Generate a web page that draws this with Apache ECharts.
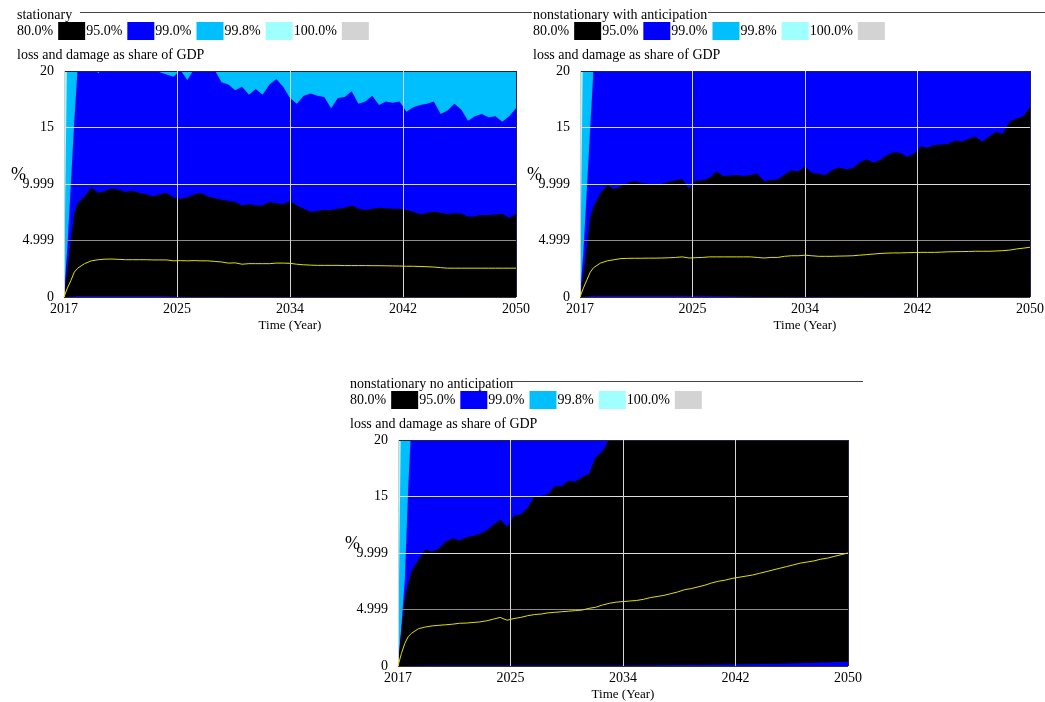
<!DOCTYPE html>
<html>
<head>
<meta charset="utf-8">
<title>loss and damage as share of GDP</title>
<script src="https://cdn.jsdelivr.net/npm/echarts@6/dist/echarts.min.js"></script>
<style>
  html, body { margin: 0; padding: 0; background: #fff; }
  #chart { width: 1045px; height: 702px; }
</style>
</head>
<body>
<div id="chart"></div>
<script>
// time axis (years), finer over the first year where the bands rise fast
const years = [2017, 2017.25, 2017.5, 2017.75, 2018, 2018.5, 2019, 2019.5, 2020, 2020.5,
  2021, 2021.5, 2022, 2022.5, 2023, 2023.5, 2024, 2024.5, 2025, 2025.5, 2026, 2026.5,
  2027, 2027.5, 2028, 2028.5, 2029, 2029.5, 2030, 2030.5, 2031, 2031.5, 2032, 2032.5,
  2033, 2033.5, 2034, 2034.5, 2035, 2035.5, 2036, 2036.5, 2037, 2037.5, 2038, 2038.5,
  2039, 2039.5, 2040, 2040.5, 2041, 2041.5, 2042, 2042.5, 2043, 2043.5, 2044, 2044.5,
  2045, 2045.5, 2046, 2046.5, 2047, 2047.5, 2048, 2048.5, 2049, 2049.5, 2050];
const startYear = 2017;
const yTickLabels = ['0', '4.999', '9.999', '15', '20'];

const panelTitles = ['stationary', 'nonstationary with anticipation', 'nonstationary no anticipation'];
const subtitle = 'loss and damage as share of GDP';
const bandNames = ['80.0%', '95.0%', '99.0%', '99.8%', '100.0%'];
const bandColors = ['#000000', '#0000ff', '#00bfff', '#a0ffff', '#d3d3d3'];

// --- stationary ---
const statUpper80 = [0, 2.4, 5.1, 7.4, 8.3, 8.9, 9.7, 9.2, 9.4, 9.6, 9.5, 9.3, 9.4, 9.2, 9.1, 8.9,
  9.1, 9.2, 8.8, 8.7, 8.8, 9.1, 9.2, 8.9, 8.75, 8.6, 8.5, 8.4, 8.1, 8.2, 8.1, 8.1, 8.4, 8.3,
  8.2, 8.5, 8.1, 7.8, 7.55, 7.6, 7.7, 7.7, 7.8, 7.9, 8.1, 7.8, 7.7, 7.8, 7.9, 7.85, 7.8, 7.8,
  7.7, 7.55, 7.3, 7.45, 7.55, 7.45, 7.35, 7.4, 7.4, 7.1, 7.15, 7.25, 7.25, 7.3, 7.35, 7.0, 7.35];
const statUpper95 = [0, 4.5, 10, 15.5, 20.4, 21, 20.6, 19.8, 20.5, 21, 20.5, 20.6, 20.4, 20.3,
  20.5, 20.2, 19.9, 19.7, 19.5, 20.1, 19.2, 20.2, 20.3, 20.2, 20.1, 19.0, 18.8, 18.3, 18.6,
  17.9, 18.4, 17.9, 18.8, 19.3, 18.6, 17.6, 17.1, 17.8, 18.0, 17.8, 17.7, 16.7, 17.6, 17.7,
  18.2, 17.1, 17.3, 17.8, 17.0, 17.3, 17.2, 17.3, 16.4, 16.8, 17.0, 17.1, 17.3, 16.2, 16.5,
  17.1, 16.6, 15.6, 16.0, 16.2, 15.9, 16.0, 15.5, 16.0, 16.7];
const statMean = [0, 0.8, 1.45, 2.2, 2.55, 2.95, 3.2, 3.3, 3.35, 3.36, 3.33, 3.3, 3.3, 3.3, 3.3,
  3.28, 3.28, 3.28, 3.2, 3.22, 3.2, 3.22, 3.2, 3.2, 3.15, 3.1, 3.0, 3.02, 2.9, 2.95, 2.95, 2.95,
  2.95, 3.0, 3.0, 2.98, 2.9, 2.85, 2.82, 2.8, 2.8, 2.8, 2.8, 2.78, 2.78, 2.78, 2.78, 2.77, 2.77,
  2.76, 2.75, 2.74, 2.72, 2.72, 2.7, 2.68, 2.65, 2.6, 2.55, 2.55, 2.55, 2.55, 2.55, 2.55, 2.55,
  2.55, 2.55, 2.55, 2.55];

// --- nonstationary with anticipation ---
const antUpper80 = [0, 2.0, 4.5, 7.1, 8.0, 9.2, 9.9, 9.55, 9.8, 10.1, 10.25, 10.1, 10.0, 10.0,
  10.0, 10.2, 10.3, 10.45, 9.6, 10.3, 10.3, 10.55, 11.1, 10.7, 10.75, 10.8, 10.7, 10.8, 10.9,
  10.25, 10.35, 10.4, 10.85, 11.2, 11.1, 11.55, 11.0, 10.9, 10.8, 11.25, 11.45, 11.3, 11.4,
  11.9, 12.2, 11.9, 12.1, 12.55, 12.8, 12.75, 12.4, 12.7, 13.35, 13.2, 13.45, 13.5, 13.55,
  13.85, 13.75, 14.0, 14.2, 13.75, 14.2, 14.6, 14.45, 15.5, 15.8, 16.0, 16.8];
const antMean = [0, 0.8, 1.5, 2.2, 2.6, 3.0, 3.2, 3.3, 3.4, 3.42, 3.43, 3.43, 3.44, 3.44, 3.45,
  3.47, 3.5, 3.55, 3.45, 3.48, 3.5, 3.55, 3.55, 3.55, 3.55, 3.55, 3.55, 3.55, 3.5, 3.45, 3.5,
  3.5, 3.6, 3.65, 3.65, 3.7, 3.65, 3.6, 3.6, 3.6, 3.62, 3.63, 3.65, 3.7, 3.75, 3.8, 3.85, 3.88,
  3.9, 3.9, 3.92, 3.94, 3.95, 3.95, 3.95, 3.97, 4.0, 4.01, 4.02, 4.03, 4.05, 4.05, 4.05, 4.07,
  4.1, 4.15, 4.25, 4.32, 4.4];

// --- nonstationary no anticipation ---
const noAntUpper80 = [0, 3.2, 6.0, 7.3, 8.4, 9.4, 10.3, 10.1, 10.4, 11.0, 11.3, 11.1, 11.4, 11.5,
  11.7, 12.0, 12.5, 12.95, 12.3, 13.3, 13.4, 14.0, 15.0, 15.05, 15.2, 15.9, 15.9, 16.4, 16.3,
  16.7, 17.0, 18.5, 19.0, 20.1, 20.8, 21.2, 21.0, 21.5, 21.9, 22.1, 22.4, 22.6, 22.9, 23.1,
  23.4, 23.6, 23.9, 24.2, 24.5, 24.7, 25.0, 25.3, 25.6, 25.8, 26.1, 26.4, 26.7, 26.9, 27.2,
  27.5, 27.8, 28.0, 28.3, 28.6, 28.9, 29.1, 29.4, 29.7, 30.0];
const noAntMean = [0, 1.1, 2.0, 2.6, 2.9, 3.3, 3.45, 3.55, 3.6, 3.65, 3.7, 3.78, 3.8, 3.85, 3.9,
  4.0, 4.15, 4.3, 4.05, 4.2, 4.3, 4.45, 4.55, 4.6, 4.7, 4.75, 4.8, 4.85, 4.9, 4.95, 5.1, 5.2,
  5.4, 5.55, 5.65, 5.7, 5.75, 5.8, 5.9, 6.05, 6.15, 6.25, 6.4, 6.55, 6.75, 6.85, 7.0, 7.15,
  7.35, 7.5, 7.6, 7.75, 7.85, 7.95, 8.05, 8.2, 8.35, 8.5, 8.65, 8.8, 8.95, 9.1, 9.2, 9.3,
  9.45, 9.55, 9.7, 9.85, 10.0];

// outer bounds, mostly above the 20 % ceiling (only the first year shows)
const upper95Years = [2017, 2017.25, 2017.5, 2017.75, 2018, 2019, 2030, 2050];
const antUpper95 = [0, 4, 9.5, 15, 20.4, 23, 26, 32];
const noAntUpper95 = [0, 3.5, 7.7, 15.8, 22, 24, 28, 36];
const outerYears = [2017, 2017.25, 2017.5, 2018, 2030, 2050];
const statUpper99 = [0, 24, 30, 29, 27, 25];
const antUpper99 = [0, 25, 32, 34, 38, 45];
const noAntUpper99 = [0, 25, 32, 35, 40, 48];
const statUpper998 = [0, 50, 60, 60, 55, 50];
const antUpper998 = [0, 50, 60, 65, 70, 80];
const noAntUpper998 = [0, 50, 60, 66, 72, 85];
const upper100 = [0, 200, 200, 200, 200, 200];

// lower 80 % bound, a thin sliver along zero
const statLowerYears = [2017, 2018, 2024, 2026, 2050];
const statLower80 = [0, 0.08, 0.08, 0.02, 0.02];
const antLowerYears = [2017, 2018, 2026, 2030, 2050];
const antLower80 = [0, 0.1, 0.1, 0.03, 0.03];
const noAntLowerYears = [2017, 2020, 2034, 2040, 2045, 2050];
const noAntLower80 = [0, 0.05, 0.05, 0.12, 0.2, 0.38];

const panels = [
  { upper80: statUpper80, upper95: [years, statUpper95], upper99: statUpper99, upper998: statUpper998,
    lower: [statLowerYears, statLower80], mean: statMean },
  { upper80: antUpper80, upper95: [upper95Years, antUpper95], upper99: antUpper99, upper998: antUpper998,
    lower: [antLowerYears, antLower80], mean: antMean },
  { upper80: noAntUpper80, upper95: [upper95Years, noAntUpper95], upper99: noAntUpper99, upper998: noAntUpper998,
    lower: [noAntLowerYears, noAntLower80], mean: noAntMean }
];

const layouts = [
  { left: 64, top: 71, width: 452, height: 226, textX: 17, rules: [[80, 530]] },
  { left: 580, top: 71, width: 450, height: 226, textX: 533, rules: [[520, 532], [708, 1045]] },
  { left: 398, top: 440, width: 450, height: 226, textX: 350, rules: [[510, 863]] }
];

const FONT = '"Liberation Serif", "Times New Roman", serif';

function pairs(xs, ys) {
  return xs.map((x, k) => [x - startYear, ys[k]]);
}

function band(bandIdx, xs, ys, gi) {
  const color = bandColors[bandIdx];
  return {
    type: 'line', name: bandNames[bandIdx], xAxisIndex: gi, yAxisIndex: gi,
    data: pairs(xs, ys), symbol: 'none', showSymbol: false, silent: true,
    color: color, itemStyle: { color: color },
    lineStyle: { width: 0 }, areaStyle: { color: color, opacity: 1 },
    emphasis: { disabled: true }, z: 2
  };
}

const option = {
  animation: false,
  backgroundColor: '#fff',
  textStyle: { fontFamily: FONT, color: '#000' },
  grid: [], xAxis: [], yAxis: [], legend: [], series: [], graphic: []
};

panels.forEach((p, i) => {
  const L = layouts[i];
  option.grid.push({ left: L.left, top: L.top, width: L.width, height: L.height,
    containLabel: false, outerBoundsMode: 'none' });

  option.xAxis.push({
    gridIndex: i, type: 'value', min: 0, max: 33, interval: 8.25, z: 5,
    name: 'Time (Year)', nameLocation: 'middle', nameGap: 22, nameMoveOverlap: false,
    nameTextStyle: { fontFamily: FONT, fontSize: 13, color: '#000' },
    axisLine: { show: false }, axisTick: { show: false },
    axisLabel: { margin: 5, fontFamily: FONT, fontSize: 14, color: '#000',
      formatter: v => String(Math.round(startYear + v)) },
    splitLine: { show: true, lineStyle: { width: 1,
      color: ['#d0d0d0', '#d4d4d4', '#d4d4d4', '#d4d4d4', '#222244'] } }
  });

  option.yAxis.push({
    gridIndex: i, type: 'value', min: 0, max: 20, interval: 5, z: 5,
    name: '%', nameLocation: 'middle', nameRotate: 0, nameGap: 38, nameMoveOverlap: false,
    nameTextStyle: { fontFamily: FONT, fontSize: 18, color: '#000', align: 'right', verticalAlign: 'bottom' },
    axisLine: { show: false }, axisTick: { show: false },
    axisLabel: { margin: 10, fontFamily: FONT, fontSize: 14, color: '#000',
      formatter: v => yTickLabels[Math.round(v / 5)] },
    splitLine: { show: true, lineStyle: { width: 1,
      color: ['#333333', '#8c8c8c', '#dcdcdc', '#dcdcdc', '#222244'] } }
  });

  option.legend.push({
    left: L.textX, top: L.top - 49, padding: 0, orient: 'horizontal',
    data: bandNames.map((n, k) => ({ name: n, itemStyle: { color: bandColors[k] } })),
    itemWidth: 27, itemHeight: 18, itemGap: 1, align: 'right', icon: 'rect',
    selectedMode: false,
    textStyle: { fontFamily: FONT, fontSize: 14, color: '#000' }
  });

  // painter order: outer bands first, inner bands on top
  option.series.push(band(4, outerYears, upper100, i));
  option.series.push(band(3, outerYears, p.upper998, i));
  option.series.push(band(2, outerYears, p.upper99, i));
  option.series.push(band(1, p.upper95[0], p.upper95[1], i));
  option.series.push(band(0, years, p.upper80, i));
  option.series.push(band(1, p.lower[0], p.lower[1], i));
  option.series.push({
    type: 'line', name: 'loss and damage', xAxisIndex: i, yAxisIndex: i,
    data: pairs(years, p.mean), symbol: 'none', showSymbol: false, silent: true,
    lineStyle: { color: '#e0e000', width: 1 }, z: 6
  });

  option.graphic.push({
    type: 'text', x: L.textX, y: L.top - 56, z: 10,
    style: { text: panelTitles[i], font: '14px ' + FONT, fill: '#000', verticalAlign: 'middle' }
  });
  option.graphic.push({
    type: 'text', x: L.textX, y: L.top - 16, z: 10,
    style: { text: subtitle, font: '14px ' + FONT, fill: '#000', verticalAlign: 'middle' }
  });
  L.rules.forEach(r => {
    option.graphic.push({
      type: 'line', z: 10,
      shape: { x1: r[0], y1: L.top - 58.5, x2: r[1], y2: L.top - 58.5 },
      style: { stroke: '#444', lineWidth: 1 }
    });
  });
});

const chart = echarts.init(document.getElementById('chart'));
chart.setOption(option);
</script>
</body>
</html>
